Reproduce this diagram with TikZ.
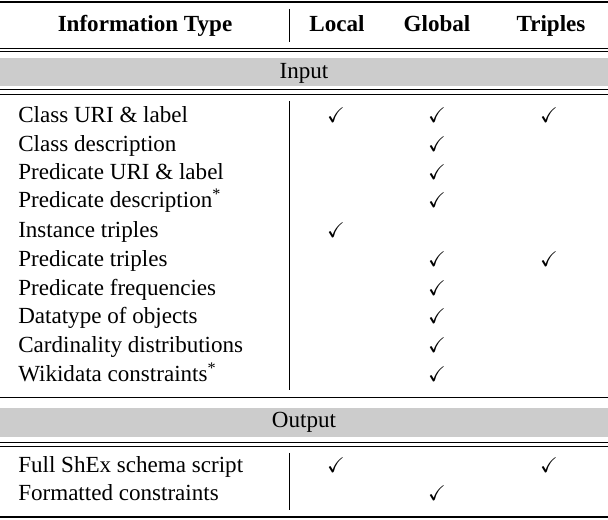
\documentclass[tikz,border=0pt]{standalone}
\usepackage{amssymb}
\usepackage{fontspec}
\setmainfont{Liberation Serif}
\begin{document}
\begin{tikzpicture}[x=0.75pt,y=-0.75pt,
  txt/.style={anchor=base west,inner sep=0pt,font=\fontsize{17.3}{20}\selectfont},
  hd/.style={anchor=base,inner sep=0pt,font=\fontsize{17.3}{20}\selectfont\bfseries},
  ctr/.style={anchor=base,inner sep=0pt,font=\fontsize{17.3}{20}\selectfont},
  ck/.style={anchor=base,inner sep=0pt,font=\fontsize{16}{18}\selectfont},
  thick rule/.style={line width=1.3pt},
  thin rule/.style={line width=0.6pt}]
\useasboundingbox (0,0) rectangle (608,520);
% rules
\draw[thick rule] (0,2) -- (608,2);
\draw[thin rule] (0,48) -- (608,48);
\draw[thin rule] (0,51) -- (608,51);
\fill[black!20] (0,58) rectangle (608,86);
\draw[thin rule] (0,89) -- (608,89);
\draw[thin rule] (0,94) -- (608,94);
\draw[thin rule] (0,397) -- (608,397);
\fill[black!20] (0,408) rectangle (608,437);
\draw[thin rule] (0,442) -- (608,442);
\draw[thin rule] (0,446) -- (608,446);
\draw[thick rule] (0,517) -- (608,517);
% verticals
\draw[thin rule] (289,9) -- (289,42);
\draw[thin rule] (289,101) -- (289,390);
\draw[thin rule] (289,453) -- (289,510);
% header
\node[hd] (h0) at (145,32) {Information Type};
\node[hd] (h1) at (337,32) {Local};
\node[hd] (h2) at (437,32) {Global};
\node[hd] (h3) at (551,32) {Triples};
\node[ctr] (in) at (304,79) {Input};
\node[ctr] (out) at (304,428) {Output};
% rows
\foreach \t/\y [count=\i] in {Class URI \& label/116, Class description/145, Predicate URI \& label/173, Predicate description\textsuperscript{*}/201, Instance triples/231, Predicate triples/260, Predicate frequencies/289, Datatype of objects/317, Cardinality distributions/346, Wikidata constraints\textsuperscript{*}/375, Full ShEx schema script/466, Formatted constraints/494}
  \node[txt] (r\i) at (18,\y+7) {\t};
% checks
\foreach \x/\y/\n in {336/116/a, 437/116/b, 549/116/c, 437/145/d, 437/173/e, 437/201/f, 336/231/g, 437/260/h, 549/260/i, 437/289/j, 437/317/k, 437/346/l, 437/375/m, 336/466/n, 549/466/o, 437/494/p}
  \node[ck] (c\n) at (\x,\y+7) {$\checkmark$};
\end{tikzpicture}
\end{document}
